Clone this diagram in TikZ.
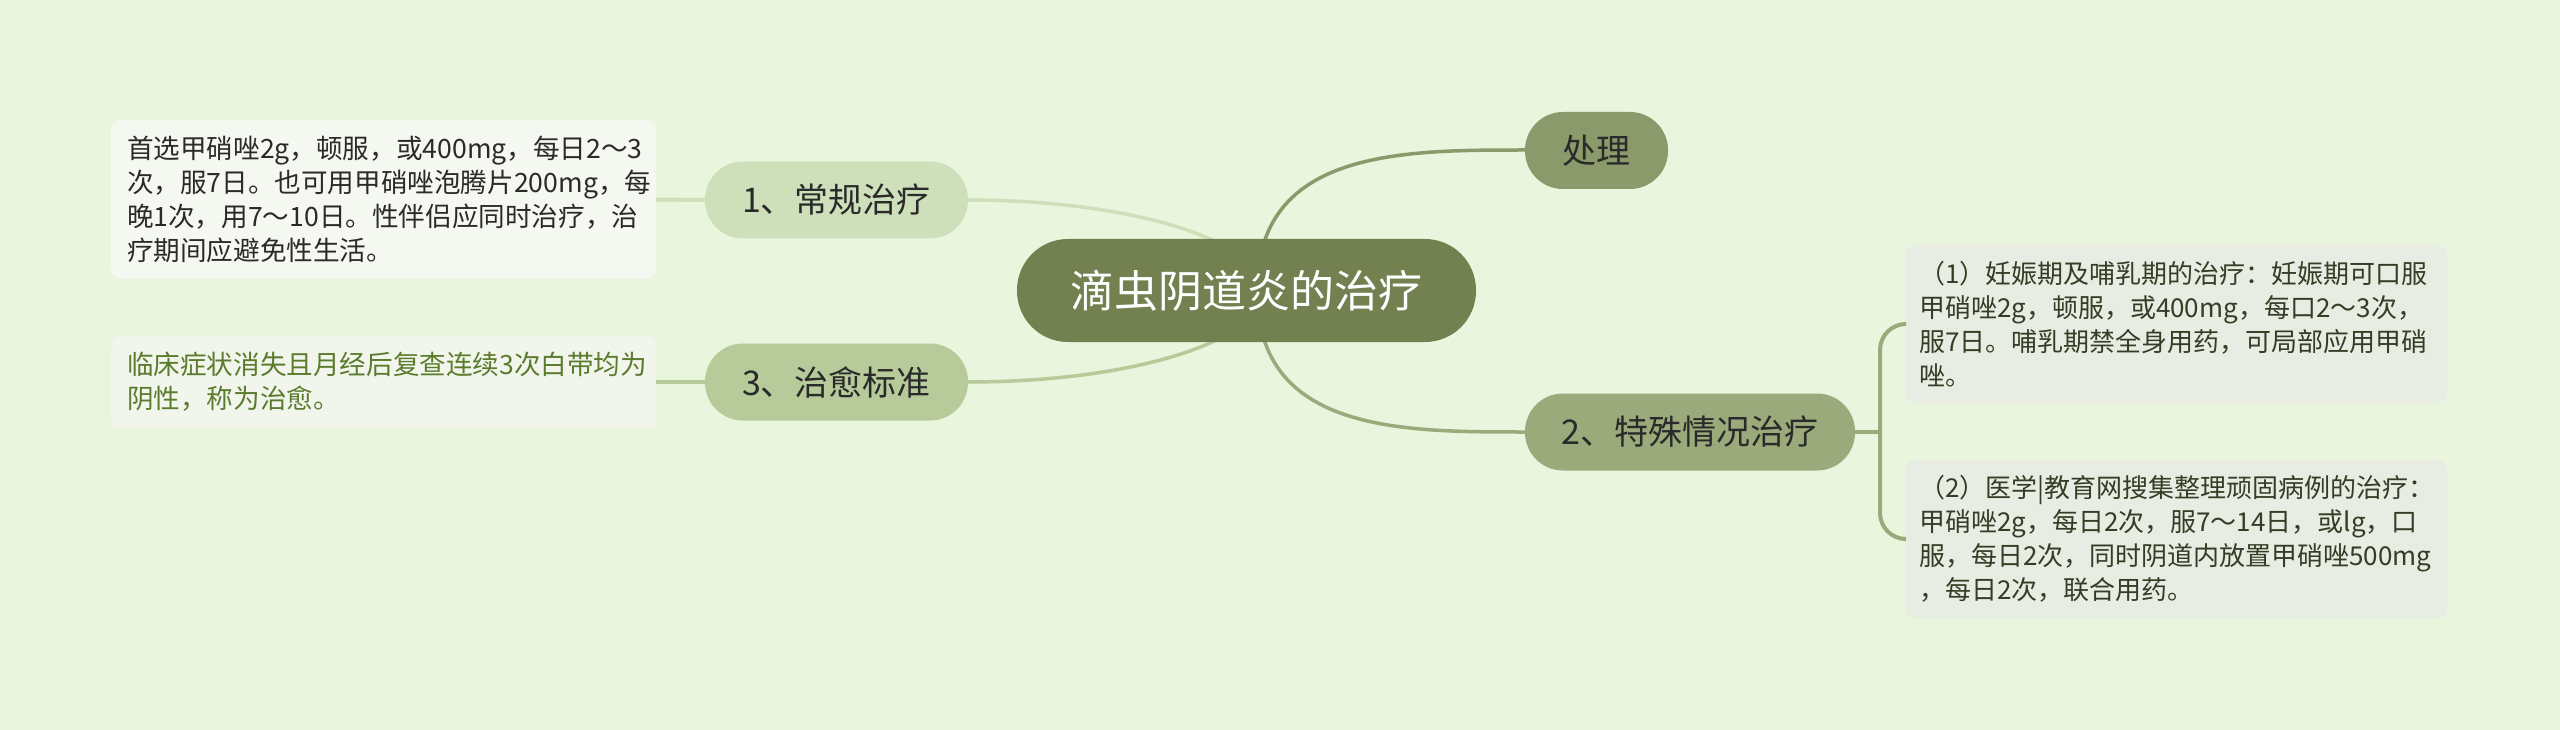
\documentclass[tikz,border=0pt]{standalone}
\usepackage{fontspec}
\setmainfont{Noto Sans CJK SC}
\definecolor{bgc}{HTML}{E9F5DC}
\definecolor{rootc}{HTML}{72814F}
\definecolor{chulic}{HTML}{8A9A6A}
\definecolor{twoc}{HTML}{9AAA7B}
\definecolor{onec}{HTML}{CDE0BA}
\definecolor{threec}{HTML}{B6CA9A}
\definecolor{lboxa}{HTML}{F4F8F0}
\definecolor{lboxb}{HTML}{F1F5EB}
\definecolor{rboxc}{HTML}{E8ECE2}
\definecolor{darktxt}{HTML}{2A2A2A}
\definecolor{greentxt}{HTML}{5B7B2D}
\definecolor{righttxt}{HTML}{323E25}
\tikzset{
  pill/.style={inner sep=0pt, minimum height=77pt, rounded corners=38pt, text=darktxt, font=\fontsize{34}{40}\selectfont},
  textbox/.style={inner xsep=16pt, inner ysep=0pt, align=left, rounded corners=10pt, font=\fontsize{26}{34}\selectfont},
  conn/.style={line width=3.5pt},
}
\begin{document}
\begin{tikzpicture}[x=1pt,y=-1pt]
\fill[bgc] (0,0) rectangle (2560,730);
\useasboundingbox (0,0) rectangle (2560,730);

% anchor coordinates
\coordinate (rootL) at (1262,291);
\coordinate (rootR) at (1257,291);

% connectors (drawn first, behind nodes)
\draw[conn, onec] (rootL) .. controls (1262,240) and (1130,200) .. (968,200) coordinate (n1e);
\draw[conn, threec] (rootL) .. controls (1262,342) and (1130,382) .. (968,382) coordinate (n3e);
\draw[conn, chulic] (rootR) .. controls (1257,150) and (1400,150) .. (1525,150) coordinate (chulie);
\draw[conn, twoc] (rootR) .. controls (1257,432) and (1400,432) .. (1525,432) coordinate (n2e);

% root
\node[inner sep=0pt, minimum width=459pt, minimum height=103pt, rounded corners=51pt, fill=rootc, text=white, font=\fontsize{44}{50}\selectfont] (root) at (1246.5,290.5) {滴虫阴道炎的治疗};

% main branches
\node[pill, fill=onec, minimum width=263pt] (n1) at (836.5,200) {1、常规治疗};
\node[pill, fill=threec, minimum width=263pt] (n3) at (836.5,382) {3、治愈标准};
\node[pill, fill=chulic, minimum width=143pt] (chuli) at (1596.5,150.5) {处理};
\node[pill, fill=twoc, minimum width=330pt] (n2) at (1690,432) {2、特殊情况治疗};

% text boxes
\node[textbox, fill=lboxa, text=darktxt, text width=513pt, minimum height=159pt, font=\fontsize{26.6}{34}\selectfont] (lb1) at (383.5,199.5) {首选甲硝唑2g，顿服，或400mg，每日2～3\\次，服7日。也可用甲硝唑泡腾片200mg，每\\晚1次，用7～10日。性伴侣应同时治疗，治\\疗期间应避免性生活。};
\node[textbox, fill=lboxb, text=greentxt, text width=513pt, minimum height=92pt, font=\fontsize{26.6}{34}\selectfont] (lb2) at (383.5,382) {临床症状消失且月经后复查连续3次白带均为\\阴性，称为治愈。};
\node[textbox, fill=rboxc, text=righttxt, inner xsep=14pt, text width=514pt, minimum height=158pt] (rb1) at (2176,324) {（1）妊娠期及哺乳期的治疗：妊娠期可口服\\甲硝唑2g，顿服，或400mg，每口2～3次，\\服7日。哺乳期禁全身用药，可局部应用甲硝\\唑。};
\node[textbox, fill=rboxc, text=righttxt, inner xsep=14pt, text width=514pt, minimum height=158pt] (rb2) at (2176,539) {（2）医学|教育网搜集整理顽固病例的治疗：\\甲硝唑2g，每日2次，服7～14日，或lg，口\\服，每日2次，同时阴道内放置甲硝唑500mg\\，每日2次，联合用药。};

% connectors to text boxes
\draw[line width=4pt, onec] (n1.west) -- (lb1.east);
\draw[line width=4pt, threec] (n3.west) -- (lb2.east);
\coordinate (br) at (1880,432);
\draw[line width=4pt, twoc] (n2.east) -- (br);
\draw[line width=4pt, twoc, rounded corners=26pt] (rb1.west) -- (1880,324) -- (1880,539) -- (rb2.west);
\end{tikzpicture}
\end{document}
